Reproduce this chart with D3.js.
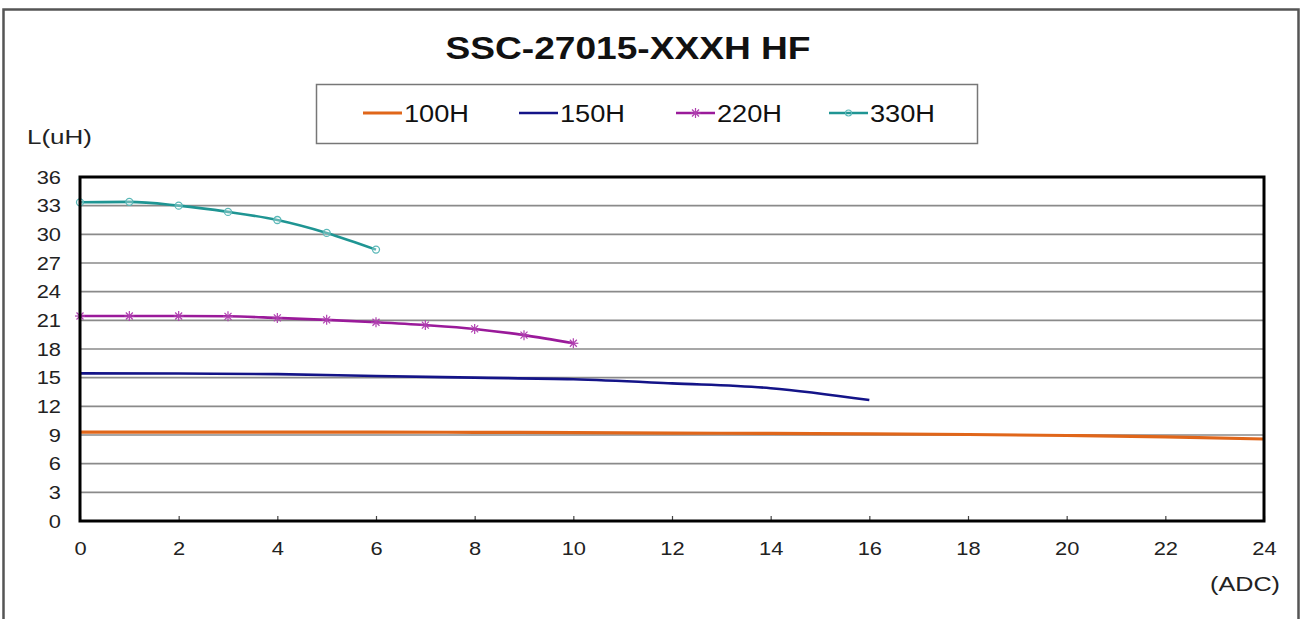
<!DOCTYPE html>
<html><head><meta charset="utf-8">
<script src="https://cdn.jsdelivr.net/npm/d3@7"></script>
<style>
html,body{margin:0;padding:0;background:#fff;}
svg{display:block;font-family:"Liberation Sans",Arial,sans-serif;}
</style></head>
<body>
<svg id="chart" width="1303" height="619"></svg>
<script>
const title = "SSC-27015-XXXH HF";
const yLabel = "L(uH)";
const xLabel = "(ADC)";
const xTicks = [0,2,4,6,8,10,12,14,16,18,20,22,24];
const yTicks = [0,3,6,9,12,15,18,21,24,27,30,33,36];

const seriesNames = ["100H","150H","220H","330H"];
const seriesColors = ["#E0661A","#141488","#9A1A9A","#1F9593"];

const x100 = [0,2,4,6,8,10,12,14,16,18,20,22,24];
const y100 = [9.3,9.3,9.3,9.3,9.28,9.25,9.2,9.17,9.12,9.05,8.95,8.8,8.58];

const x150 = [0,2,4,6,8,10,12,14,16];
const y150 = [15.45,15.43,15.37,15.17,15.0,14.83,14.4,13.9,12.66];

const x220 = [0,1,2,3,4,5,6,7,8,9,10];
const y220 = [21.45,21.45,21.45,21.42,21.25,21.05,20.8,20.5,20.1,19.45,18.6];

const x330 = [0,1,2,3,4,5,6];
const y330 = [33.35,33.4,33.0,32.35,31.5,30.15,28.4];

const series = [
  {name:seriesNames[0], color:seriesColors[0], xs:x100, ys:y100, marker:null, w:3.2},
  {name:seriesNames[1], color:seriesColors[1], xs:x150, ys:y150, marker:null, w:2.6},
  {name:seriesNames[2], color:seriesColors[2], xs:x220, ys:y220, marker:"star", w:2.6},
  {name:seriesNames[3], color:seriesColors[3], xs:x330, ys:y330, marker:"circle", w:2.6}
];

function stretch(sel, f){
  sel.each(function(){
    const w = this.getComputedTextLength();
    d3.select(this).attr("textLength", w*f).attr("lengthAdjust","spacingAndGlyphs");
  });
}

const svg = d3.select("#chart");
// outer frame
svg.append("rect").attr("x",3.5).attr("y",9.5).attr("width",1295).attr("height",640)
  .attr("fill","none").attr("stroke","#555").attr("stroke-width",2.5);

const L=80, R=1264, T=177, B=521;
const x = d3.scaleLinear().domain([0,24]).range([L,R]);
const y = d3.scaleLinear().domain([0,36]).range([B,T]);

// gridlines
svg.append("g").selectAll("line").data(yTicks.filter(d=>d>0&&d<36)).join("line")
  .attr("x1",L).attr("x2",R).attr("y1",d=>y(d)).attr("y2",d=>y(d))
  .attr("stroke","#8a8a8a").attr("stroke-width",1.6);

// y axis labels
const ya = svg.append("g").attr("transform",`translate(${L},0)`)
  .call(d3.axisLeft(y).tickValues(yTicks).tickSize(0).tickPadding(19));
ya.select(".domain").remove();
ya.selectAll("text").attr("font-size",19).attr("fill","#222").attr("font-family","Liberation Sans, Arial, sans-serif");
stretch(ya.selectAll("text"),1.15);

// x axis labels + inward ticks
const xa = svg.append("g").attr("transform",`translate(0,${B})`)
  .call(d3.axisBottom(x).tickValues(xTicks).tickSize(-5).tickPadding(21));
xa.select(".domain").remove();
xa.selectAll("line").attr("stroke","#444").attr("stroke-width",1.2);
xa.selectAll("text").attr("font-size",19).attr("fill","#222").attr("font-family","Liberation Sans, Arial, sans-serif");
stretch(xa.selectAll("text"),1.15);

// lines
const line = d3.line().curve(d3.curveMonotoneX).x(d=>x(d[0])).y(d=>y(d[1]));
series.forEach(s=>{
  const pts = s.xs.map((v,i)=>[v,s.ys[i]]);
  svg.append("path").datum(pts).attr("d",line).attr("fill","none")
    .attr("stroke",s.color).attr("stroke-width",s.w).attr("stroke-linejoin","round");
  if(s.marker==="circle"){
    svg.append("g").selectAll("circle").data(pts).join("circle")
      .attr("cx",d=>x(d[0])).attr("cy",d=>y(d[1])).attr("r",3.5)
      .attr("fill","#fff").attr("fill-opacity",0.3).attr("stroke","#5BB8B8").attr("stroke-width",1.3);
  } else if(s.marker==="star"){
    const g = svg.append("g");
    pts.forEach(d=>{
      const cx=x(d[0]), cy=y(d[1]), r=5;
      [[-r,0,r,0],[-r*0.7,-r*0.7,r*0.7,r*0.7],[-r*0.7,r*0.7,r*0.7,-r*0.7],[0,-r,0,r]].forEach(a=>{
        g.append("line").attr("x1",cx+a[0]).attr("y1",cy+a[1]).attr("x2",cx+a[2]).attr("y2",cy+a[3])
          .attr("stroke","#B040B0").attr("stroke-width",1.2);
      });
    });
  }
});

// plot border
svg.append("rect").attr("x",L).attr("y",T).attr("width",R-L).attr("height",B-T)
  .attr("fill","none").attr("stroke","#000").attr("stroke-width",3);

// title
svg.append("text").attr("x",628).attr("y",59).attr("text-anchor","middle")
  .attr("font-size",31).attr("font-weight","bold").attr("fill","#111")
  .attr("textLength",365).attr("lengthAdjust","spacingAndGlyphs").text(title);

// legend
svg.append("rect").attr("x",316.5).attr("y",84.5).attr("width",661).attr("height",59)
  .attr("fill","#fff").attr("stroke","#777").attr("stroke-width",1.5);
const legX = [363,519,676,829];
series.forEach((s,i)=>{
  const lx = legX[i], ly = 113;
  svg.append("line").attr("x1",lx).attr("x2",lx+39).attr("y1",ly).attr("y2",ly)
    .attr("stroke",s.color).attr("stroke-width",s.w);
  if(s.marker==="circle"){
    svg.append("circle").attr("cx",lx+19.5).attr("cy",ly).attr("r",3).attr("fill","none").attr("stroke","#5BB8B8").attr("stroke-width",1.2);
  } else if(s.marker==="star"){
    const r=5,cx=lx+19.5;
    [[-r,0,r,0],[-r*0.7,-r*0.7,r*0.7,r*0.7],[-r*0.7,r*0.7,r*0.7,-r*0.7],[0,-r,0,r]].forEach(a=>{
      svg.append("line").attr("x1",cx+a[0]).attr("y1",ly+a[1]).attr("x2",cx+a[2]).attr("y2",ly+a[3])
        .attr("stroke","#B040B0").attr("stroke-width",1.2);
    });
  }
  svg.append("text").attr("x",lx+41).attr("y",ly+8.5).attr("font-size",23).attr("fill","#111")
    .attr("textLength",65).attr("lengthAdjust","spacingAndGlyphs").text(s.name);
});

// axis titles
svg.append("text").attr("x",27).attr("y",144).attr("font-size",21).attr("fill","#222")
  .attr("textLength",65).attr("lengthAdjust","spacingAndGlyphs").text(yLabel);
svg.append("text").attr("x",1210).attr("y",591).attr("font-size",21).attr("fill","#222")
  .attr("textLength",70).attr("lengthAdjust","spacingAndGlyphs").text(xLabel);
</script>
</body></html>
